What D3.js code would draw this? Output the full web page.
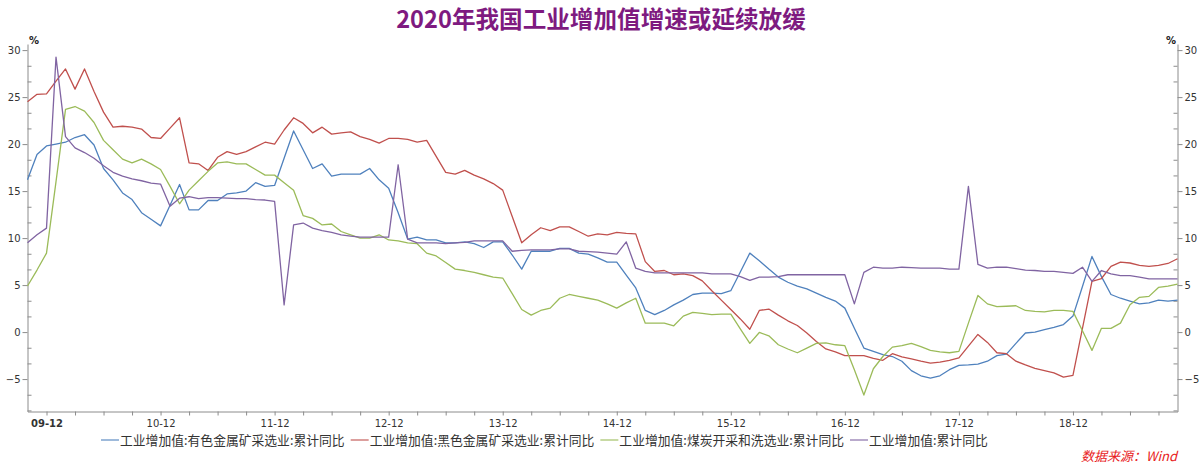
<!DOCTYPE html>
<html>
<head>
<meta charset="utf-8">
<script src="https://cdn.jsdelivr.net/npm/d3@7"></script>
<style>
  body { margin: 0; background: #fff; }
  svg { display: block; }
</style>
</head>
<body>
<svg id="chart" width="1203" height="464"></svg>
<script>
// Monthly series, first observation 2009-10, last 2019-11 (cumulative YoY, %)
const startYear = 2009, startMonth = 10;

const seriesNames = [
  "工业增加值:有色金属矿采选业:累计同比",
  "工业增加值:黑色金属矿采选业:累计同比",
  "工业增加值:煤炭开采和洗选业:累计同比",
  "工业增加值:累计同比"
];

const nonferrous = [
  16.2, 18.9, 19.8, 20.0, 20.2, 20.7, 21.0, 19.9, 17.4, 16.2, 14.8, 14.1,
  12.7, 12.0, 11.3, 13.5, 15.7, 13.0, 13.0, 14.0, 14.0, 14.7, 14.8, 15.0,
  15.9, 15.5, 15.6, 18.5, 21.4, 19.4, 17.4, 17.9, 16.6, 16.8, 16.8, 16.8,
  17.4, 16.2, 15.3, 12.7, 9.9, 10.1, 9.8, 9.8, 9.5, 9.5, 9.6, 9.4,
  9.0, 9.6, 9.6, 8.2, 6.7, 8.6, 8.6, 8.6, 8.9, 8.9, 8.4, 8.3,
  7.9, 7.45, 7.45, 6.05, 4.7, 2.3, 1.85, 2.3, 2.9, 3.4, 4.0, 4.15,
  4.15, 4.1, 4.4, 6.4, 8.4, 7.6, 6.7, 5.85, 5.3, 4.9, 4.6, 4.15,
  3.7, 3.3, 2.55, 0.4, -1.7, -2.05, -2.4, -2.6, -3.1, -4.1, -4.65, -4.9,
  -4.65, -4.0, -3.55, -3.5, -3.4, -3.1, -2.5, -2.35, -1.2, -0.1, 0.0, 0.25,
  0.5, 0.8, 1.7, 4.85, 8.05, 5.9, 4.0, 3.6, 3.3, 3.0, 3.1, 3.4,
  3.3, 3.4
];

const ferrous = [
  24.5, 25.3, 25.35, 26.7, 28.0, 25.85, 28.0, 25.6, 23.4, 21.8, 21.9, 21.8,
  21.6, 20.7, 20.6, 21.7, 22.8, 18.0, 17.9, 17.2, 18.6, 19.2, 18.9, 19.2,
  19.7, 20.2, 20.0, 21.5, 22.8, 22.2, 21.2, 21.8, 21.06, 21.2, 21.3, 20.8,
  20.5, 20.1, 20.6, 20.6, 20.5, 20.2, 20.4, 18.7, 17.0, 16.8, 17.2, 16.7,
  16.3, 15.8, 15.1, 12.3, 9.5, 10.35, 11.1, 10.8, 11.2, 11.2, 10.7, 10.2,
  10.45, 10.35, 10.6, 10.5, 10.45, 7.5, 6.45, 6.55, 6.1, 6.2, 6.0, 5.45,
  4.4, 3.4, 2.4, 1.4, 0.3, 2.3, 2.45, 1.8, 1.2, 0.7, -0.1, -1.0,
  -1.8, -2.1, -2.5, -2.5, -2.5, -2.8, -3.0, -2.3, -2.65, -2.85, -3.1, -3.3,
  -3.2, -3.0, -2.75, -1.5, -0.25, -1.1, -2.2, -2.3, -3.1, -3.5, -3.85, -4.1,
  -4.35, -4.8, -4.6, 0.4, 5.4, 5.7, 7.0, 7.45, 7.35, 7.1, 7.0, 7.1,
  7.3, 7.8
];

const coal = [
  4.9, 6.6, 8.4, 16.0, 23.7, 24.0, 23.5, 22.3, 20.4, 19.4, 18.4, 18.0,
  18.4, 17.9, 17.3, 15.5, 13.65, 15.1, 16.1, 17.1, 18.0, 18.1, 17.9, 17.9,
  17.3, 16.7, 16.7, 15.9, 15.1, 12.4, 12.1, 11.4, 11.5, 10.7, 10.35, 10.0,
  10.0, 10.35, 9.8, 9.7, 9.5, 9.4, 8.4, 8.1, 7.4, 6.7, 6.55, 6.35,
  6.1, 5.85, 5.75, 4.1, 2.4, 1.8, 2.3, 2.55, 3.6, 4.0, 3.8, 3.6,
  3.4, 3.0, 2.55, 3.1, 3.6, 0.95, 0.95, 0.95, 0.67, 1.7, 2.1, 2.0,
  1.85, 1.9, 1.9, 0.35, -1.2, -0.04, -0.4, -1.35, -1.8, -2.2, -1.7, -1.2,
  -1.15, -1.35, -1.45, -4.0, -6.7, -3.9, -2.6, -1.6, -1.45, -1.2, -1.55, -1.95,
  -2.1, -2.2, -2.05, 0.95, 3.9, 3.0, 2.7, 2.75, 2.8, 2.3, 2.2, 2.15,
  2.3, 2.3, 2.2, 0.14, -1.95, 0.4, 0.4, 0.95, 2.9, 3.7, 3.8, 4.75,
  4.9, 5.1
];

const industry = [
  9.5, 10.35, 11.06, 29.25, 20.8, 19.6, 19.1, 18.5, 17.7, 17.0, 16.6, 16.3,
  16.1, 15.85, 15.75, 13.4, 14.25, 14.4, 14.2, 14.3, 14.3, 14.25, 14.2, 14.2,
  14.1, 14.05, 13.9, 2.9, 11.4, 11.6, 11.06, 10.8, 10.6, 10.35, 10.2, 10.1,
  10.1, 10.1, 10.1, 17.8, 9.9, 9.5, 9.5, 9.5, 9.4, 9.5, 9.55, 9.7,
  9.7, 9.7, 9.7, 8.6, 8.7, 8.75, 8.75, 8.75, 8.85, 8.85, 8.6, 8.55,
  8.5, 8.4, 8.3, 9.6, 6.8, 6.45, 6.3, 6.3, 6.3, 6.3, 6.3, 6.3,
  6.2, 6.2, 6.2, 5.9, 5.5, 5.85, 5.85, 5.9, 6.1, 6.1, 6.1, 6.1,
  6.1, 6.1, 6.1, 3.0, 6.35, 6.9, 6.8, 6.8, 6.9, 6.85, 6.8, 6.8,
  6.8, 6.7, 6.7, 15.5, 7.2, 6.8, 6.9, 6.9, 6.75, 6.6, 6.55, 6.45,
  6.45, 6.35, 6.25, 6.9, 5.4, 6.55, 6.2, 6.0, 6.0, 5.85, 5.65, 5.65,
  5.65, 5.65
];

// Year-end labels on the time axis (YY-MM)
const xTickLabels = ["09-12","10-12","11-12","12-12","13-12","14-12","15-12","16-12","17-12","18-12"];
const yTicks = [-5, 0, 5, 10, 15, 20, 25, 30];

const title = "2020年我国工业增加值增速或延续放缓";
const sourceText = "数据来源：Wind";

const colors = ["#4F81BD", "#C0504D", "#9BBB59", "#8064A2"];
const seriesList = [nonferrous, ferrous, coal, industry];

// ---- layout ----
const svg = d3.select("#chart");
const plotL = 27.5, plotR = 1177.5, plotT = 44, plotB = 411.5;
const nPoints = nonferrous.length;

const x = d3.scaleLinear().domain([0, nPoints - 1]).range([plotL, plotR]);
const y = d3.scaleLinear().domain([-8.45, 30.65]).range([plotB, plotT]);

// month index of a "YY-MM" label relative to the first observation
const labelIndex = s => {
  const [yy, mm] = s.split("-").map(Number);
  return (2000 + yy - startYear) * 12 + (mm - startMonth);
};

const axisColor = "#8c8c8c";
const tickFont = "'DejaVu Sans', Verdana, sans-serif";

// title
svg.append("text")
  .attr("x", 601).attr("y", 27.5)
  .attr("text-anchor", "middle")
  .attr("font-family", "'Noto Sans CJK SC', sans-serif")
  .attr("font-weight", "bold")
  .attr("font-size", 23.6)
  .attr("fill", "#7E1A80")
  .text(title);

// ---- y axes ----
const minorY = d3.range(-25 / 3, 31, 5 / 3).filter(v => Math.abs(v / 5 - Math.round(v / 5)) > 0.01);

function styleAxis(g) {
  g.selectAll("path.domain").attr("stroke", axisColor);
  g.selectAll(".tick line").attr("stroke", axisColor);
  g.selectAll(".tick text")
    .attr("fill", "#333")
    .attr("font-family", tickFont)
    .attr("font-size", 10);
}

svg.append("g").attr("transform", `translate(${plotL},0)`)
  .call(d3.axisLeft(y).tickValues(yTicks).tickSize(5).tickPadding(2).tickSizeOuter(0))
  .call(styleAxis);
svg.append("g").attr("transform", `translate(${plotL},0)`)
  .call(d3.axisLeft(y).tickValues(minorY).tickSize(-4).tickFormat("").tickSizeOuter(0))
  .call(g => g.select("path.domain").remove())
  .call(styleAxis);

svg.append("g").attr("transform", `translate(${plotR},0)`)
  .call(d3.axisRight(y).tickValues(yTicks).tickSize(5).tickPadding(2).tickSizeOuter(0))
  .call(styleAxis);
svg.append("g").attr("transform", `translate(${plotR},0)`)
  .call(d3.axisRight(y).tickValues(minorY).tickSize(-4).tickFormat("").tickSizeOuter(0))
  .call(g => g.select("path.domain").remove())
  .call(styleAxis);

// unit marks
svg.append("text").attr("x", 29).attr("y", 44)
  .attr("font-family", tickFont).attr("font-size", 10).attr("font-weight", "bold")
  .attr("fill", "#222").text("%");
svg.append("text").attr("x", 1176).attr("y", 44).attr("text-anchor", "end")
  .attr("font-family", tickFont).attr("font-size", 10).attr("font-weight", "bold")
  .attr("fill", "#222").text("%");

// ---- x axis ----
const majorIdx = xTickLabels.map(labelIndex);
const labelByIdx = new Map(majorIdx.map((i, k) => [i, xTickLabels[k]]));
const quarterIdx = d3.range(majorIdx[0], nPoints, 3);

const xAxisG = svg.append("g").attr("transform", `translate(0,${plotB})`)
  .call(d3.axisBottom(x).tickValues(quarterIdx).tickSize(4).tickPadding(4).tickSizeOuter(0)
    .tickFormat(i => labelByIdx.get(i) || ""))
  .call(styleAxis);
xAxisG.selectAll(".tick text")
  .attr("font-weight", i => i === majorIdx[0] ? "bold" : "normal");

// ---- lines ----
const line = d3.line().x((d, i) => x(i)).y(d => y(d));
svg.append("g").attr("class", "series")
  .selectAll("path")
  .data(seriesList)
  .join("path")
  .attr("fill", "none")
  .attr("stroke", (d, k) => colors[k])
  .attr("stroke-width", 1.3)
  .attr("stroke-linejoin", "round")
  .attr("d", line);

// ---- legend ----
const legend = svg.append("g").attr("class", "legend");
let lx = 101;
const ly = 440;
seriesNames.forEach((name, k) => {
  legend.append("line")
    .attr("x1", lx).attr("x2", lx + 18)
    .attr("y1", ly).attr("y2", ly)
    .attr("stroke", colors[k]).attr("stroke-opacity", 0.55).attr("stroke-width", 2);
  const t = legend.append("text")
    .attr("x", lx + 19).attr("y", ly + 4.5)
    .attr("font-family", "'Noto Sans CJK SC', sans-serif")
    .attr("font-size", 12.8)
    .attr("fill", "#333")
    .text(name);
  lx += 19 + t.node().getComputedTextLength() + 6;
});

// source note
svg.append("text")
  .attr("x", 1177).attr("y", 461)
  .attr("text-anchor", "end")
  .attr("font-family", "'Noto Sans CJK SC', sans-serif")
  .attr("font-style", "italic")
  .attr("font-size", 13)
  .attr("fill", "#E8201A")
  .text(sourceText);
</script>
</body>
</html>
